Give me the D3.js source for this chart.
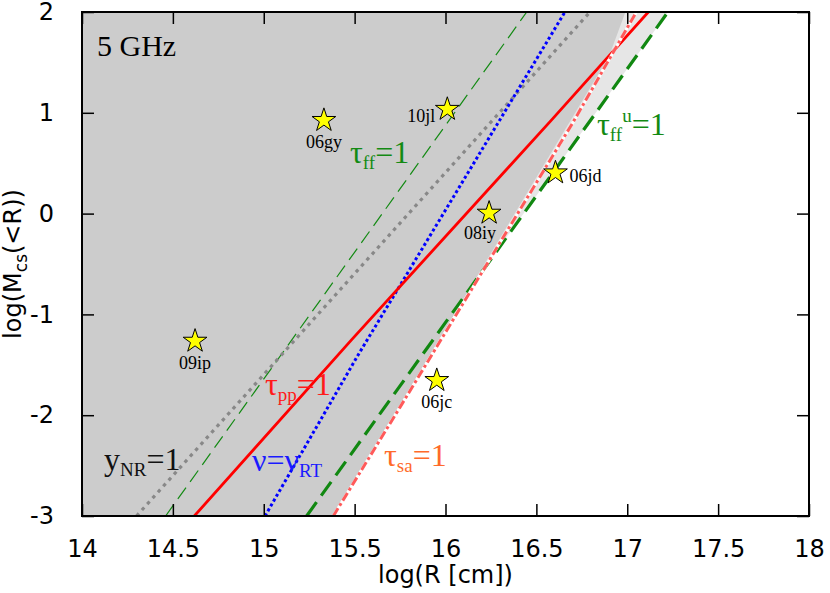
<!DOCTYPE html>
<html>
<head>
<meta charset="utf-8">
<script src="https://cdn.jsdelivr.net/npm/d3@7"></script>
<style>
  body { margin: 0; background: #fff; }
  .tick-label { font-family: "DejaVu Sans", sans-serif; font-size: 24px; fill: #000; }
  .serif { font-family: "Liberation Serif", "Times New Roman", serif; }
</style>
</head>
<body>
<div id="chart"></div>
<script>
// axis ticks
const xTicks = [14, 14.5, 15, 15.5, 16, 16.5, 17, 17.5, 18];
const yTicks = [-3, -2, -1, 0, 1, 2];

// curves: [log R, log M]
const yNR    = [[14.30, -3], [16.795, 2]];
const tauFF  = [[14.46, -3], [16.447, 2]];
const nuRT   = [[15.007, -3], [15.52, -1.40], [16.657, 2]];
const tauPP  = [[14.618, -3], [15.484, -1.25], [16.584, 0.93], [17.116, 2]];
const tauFFu = [[15.236, -3], [16.613, 0.46], [17.224, 2]];
const tauSA  = [[15.383, -3], [15.75, -1.92], [16.70, 0.90], [17.05, 2]];

// shaded regions
const darkRegion  = [[14, -3], [15.383, -3], [16.90, 1.56], [16.99, 2], [14, 2]];
const lightRegion = [[14, -3], [15.236, -3], [17.224, 2], [14, 2]];

// supernovae
const snNames = ["06gy", "10jl", "08iy", "06jd", "09ip", "06jc"];
const snR     = [15.331, 16.01, 16.24, 16.605, 14.622, 15.952];
const snM     = [0.94, 1.05, 0.02, 0.42, -1.25, -1.64];
const snPos   = ["below", "left", "belowleft", "right", "below", "below"];

const margin = {top: 12, right: 21, bottom: 77, left: 82},
    width = 830 - margin.left - margin.right,
    height = 593 - margin.top - margin.bottom;

const x = d3.scaleLinear().domain([14, 18]).range([0, width]);
const y = d3.scaleLinear().domain([-3, 2]).range([height, 0]);

const svg = d3.select("#chart").append("svg")
    .attr("width", 830)
    .attr("height", 593);

const g = svg.append("g")
    .attr("transform", "translate(" + margin.left + "," + margin.top + ")");

g.append("clipPath").attr("id", "clip")
  .append("rect").attr("width", width).attr("height", height);

const plot = g.append("g").attr("clip-path", "url(#clip)");

const line = d3.line().x(d => x(d[0])).y(d => y(d[1]));
const area = d3.line().x(d => x(d[0])).y(d => y(d[1])).curve(d3.curveLinearClosed);

plot.append("path").attr("d", area(lightRegion)).attr("fill", "#e6e6e6");
plot.append("path").attr("d", area(darkRegion)).attr("fill", "#cccccc");

function curve(data, color, w, dash, cap) {
  plot.append("path")
      .datum(data)
      .attr("d", line)
      .attr("fill", "none")
      .attr("stroke", color)
      .attr("stroke-width", w)
      .attr("stroke-dasharray", dash)
      .attr("stroke-linecap", cap || "butt");
}

curve(tauFF, "#138a13", 1.2, "14,7");
curve(yNR, "#888888", 3.2, "3.5,4.5");
curve(nuRT, "#0000ff", 3, "3,2.6");
curve(tauPP, "#ff0000", 2.8, null);
curve(tauFFu, "#118811", 3.2, "17,8");
curve(tauSA, "#ffffff", 3, null);
curve(tauSA, "#ff5a5a", 3, "9,3,3,3");

// stars
const star = d3.symbol().type(d3.symbolStar).size(175);
snNames.forEach((n, i) => {
  const cx = x(snR[i]), cy = y(snM[i]);
  plot.append("path")
      .attr("d", star())
      .attr("transform", "translate(" + cx + "," + (cy + 1.5) + ")")
      .attr("fill", "#ffff00")
      .attr("stroke", "#000")
      .attr("stroke-width", 1);
  let tx = cx, ty = cy + 29, anchor = "middle";
  if (snPos[i] === "left") { tx = cx - 12; ty = cy + 14; anchor = "end"; }
  if (snPos[i] === "right") { tx = cx + 14; ty = cy + 11; anchor = "start"; }
  if (snPos[i] === "belowleft") { tx = cx - 9; ty = cy + 27; }
  g.append("text")
      .attr("class", "serif")
      .attr("x", tx).attr("y", ty)
      .attr("text-anchor", anchor)
      .style("font-size", "18px")
      .text(n);
});

// curve labels
function label(px, py, color, parts) {
  const t = g.append("text").attr("class", "serif")
      .attr("x", px - margin.left).attr("y", py - margin.top)
      .attr("fill", color).style("font-size", "32px");
  parts.forEach(p => {
    const s = t.append("tspan").text(p.t);
    if (p.sub) s.style("font-size", "19px").attr("dy", p.dy);
    else if (p.dy) s.attr("dy", p.dy);
  });
}
label(350, 163, "#138a13", [{t: "τ"}, {t: "ff", sub: 1, dy: 6}, {t: "=1", dy: -6}]);
label(597, 135, "#138a13", [{t: "τ"}, {t: "ff", sub: 1, dy: 6}, {t: "u", sub: 1, dy: -19}, {t: "=1", dy: 13}]);
label(265, 395, "#ff1a1a", [{t: "τ"}, {t: "pp", sub: 1, dy: 6}, {t: "=1", dy: -6}]);
label(104, 470, "#111111", [{t: "y"}, {t: "NR", sub: 1, dy: 6}, {t: "=1", dy: -6}]);
label(252, 471, "#1a1aff", [{t: "ν=ν"}, {t: "RT", sub: 1, dy: 6}]);
label(384, 466, "#ff6a2a", [{t: "τ"}, {t: "sa", sub: 1, dy: 6}, {t: "=1", dy: -6}]);

g.append("text").attr("class", "serif")
    .attr("x", 15).attr("y", 44)
    .style("font-size", "30px")
    .text("5 GHz");

const fmt = d => String(d);

// axes
g.append("g")
    .attr("transform", "translate(0," + height + ")")
    .call(d3.axisBottom(x).tickValues(xTicks).tickSizeInner(-12).tickSizeOuter(0).tickPadding(24)
      .tickFormat(fmt))
    .call(a => a.select(".domain").remove())
    .call(a => a.selectAll("line").attr("stroke-width", 1.5))
    .call(a => a.selectAll("text").attr("class", "tick-label").attr("font-size", null).attr("font-family", null));

g.append("g")
    .call(d3.axisTop(x).tickValues(xTicks).tickSizeInner(-12).tickSizeOuter(0).tickFormat(""))
    .call(a => a.select(".domain").remove())
    .call(a => a.selectAll("line").attr("stroke-width", 1.5));

g.append("g")
    .call(d3.axisLeft(y).tickValues(yTicks).tickSizeInner(-12).tickSizeOuter(0).tickPadding(28)
      .tickFormat(fmt))
    .call(a => a.select(".domain").remove())
    .call(a => a.selectAll("line").attr("stroke-width", 1.5))
    .call(a => a.selectAll("text").attr("class", "tick-label").attr("font-size", null).attr("font-family", null));

g.append("g")
    .attr("transform", "translate(" + width + ",0)")
    .call(d3.axisRight(y).tickValues(yTicks).tickSizeInner(-12).tickSizeOuter(0).tickFormat(""))
    .call(a => a.select(".domain").remove())
    .call(a => a.selectAll("line").attr("stroke-width", 1.5));

g.append("rect")
    .attr("width", width).attr("height", height)
    .attr("fill", "none").attr("stroke", "#000").attr("stroke-width", 2);

// axis titles
svg.append("text").attr("class", "tick-label")
    .attr("x", margin.left + x(16)).attr("y", 583)
    .attr("text-anchor", "middle")
    .text("log(R [cm])");

const yt = svg.append("text").attr("class", "tick-label")
    .attr("transform", "translate(21," + (margin.top + height / 2) + ") rotate(-90)")
    .attr("text-anchor", "middle");
yt.append("tspan").text("log(M");
yt.append("tspan").text("cs").style("font-size", "17px").attr("dy", 6);
yt.append("tspan").text("(<R))").attr("dy", -6);
</script>
</body>
</html>
